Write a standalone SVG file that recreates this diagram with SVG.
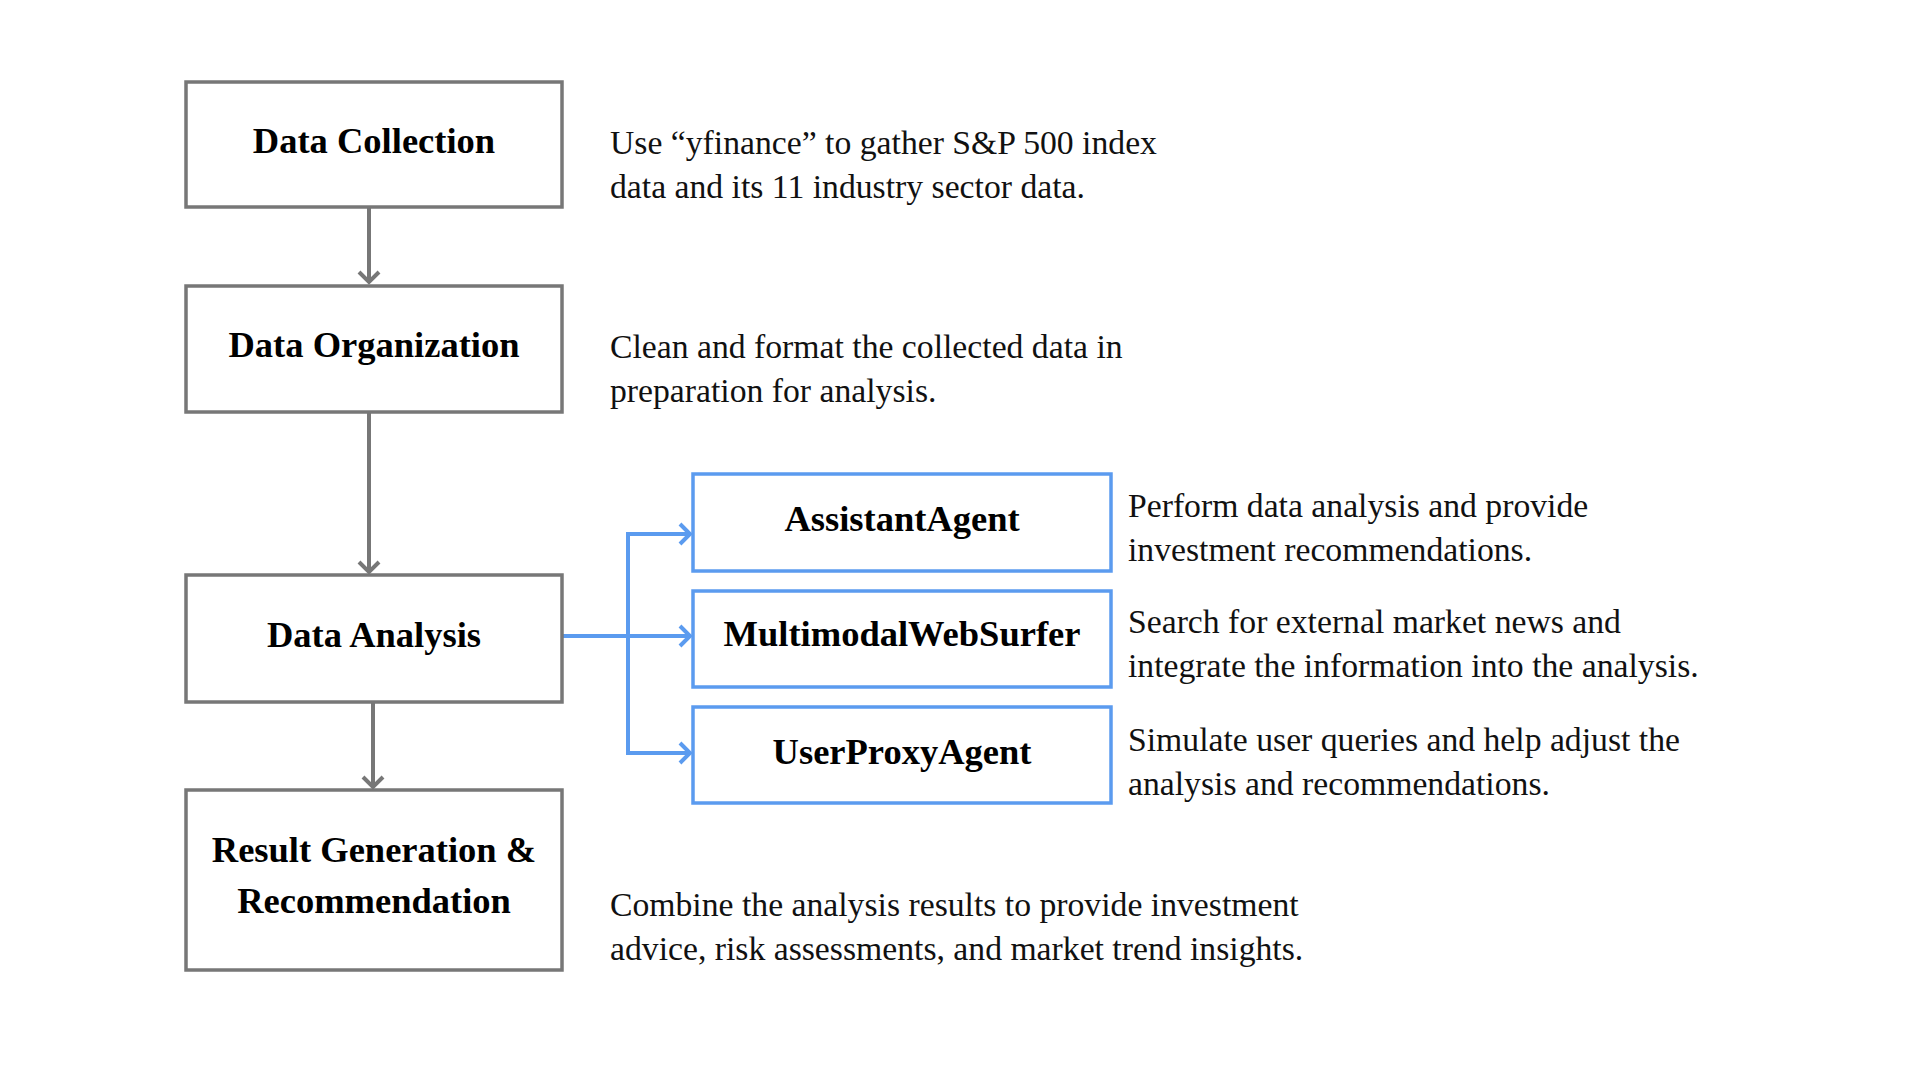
<svg xmlns="http://www.w3.org/2000/svg" width="1920" height="1080" viewBox="0 0 1920 1080">
  <defs>
    <style>
      .gbox { fill: #ffffff; stroke: #777777; stroke-width: 3.5; }
      .bbox { fill: #ffffff; stroke: #5b9bef; stroke-width: 3.5; }
      .title { font-family: "Liberation Serif", "Times New Roman", serif; font-weight: bold; font-size: 36.5px; fill: #000000; text-anchor: middle; }
      .desc { font-family: "Liberation Serif", "Times New Roman", serif; font-size: 33.7px; fill: #111111; }
      .gline { fill: none; stroke: #777777; stroke-width: 4; }
      .bline { fill: none; stroke: #5b9bef; stroke-width: 4; }
    </style>
    <marker id="gArrow" markerUnits="userSpaceOnUse" markerWidth="30" markerHeight="30" viewBox="-15 -15 30 30" refX="0" refY="0" orient="auto">
      <path d="M-10,-10 L0,0 L-10,10" fill="none" stroke="#777777" stroke-width="4"/>
    </marker>
    <marker id="bArrow" markerUnits="userSpaceOnUse" markerWidth="30" markerHeight="30" viewBox="-15 -15 30 30" refX="0" refY="0" orient="auto">
      <path d="M-10,-10 L0,0 L-10,10" fill="none" stroke="#5b9bef" stroke-width="4"/>
    </marker>
  </defs>
  <rect width="1920" height="1080" fill="#ffffff"/>

  <g id="connectors">
    <line class="gline" x1="369" y1="208" x2="369" y2="282" marker-end="url(#gArrow)"/>
    <line class="gline" x1="369" y1="413" x2="369" y2="572" marker-end="url(#gArrow)"/>
    <line class="gline" x1="373" y1="703" x2="373" y2="787" marker-end="url(#gArrow)"/>
    <line class="bline" x1="562" y1="636" x2="690" y2="636" marker-end="url(#bArrow)"/>
    <line class="bline" x1="628" y1="534" x2="628" y2="753"/>
    <polyline class="bline" points="626,534 690,534" marker-end="url(#bArrow)"/>
    <polyline class="bline" points="626,753 690,753" marker-end="url(#bArrow)"/>
  </g>

  <g id="node-data-collection">
    <rect class="gbox" x="186" y="82" width="376" height="125"/>
    <text class="title" x="374" y="153">Data Collection</text>
  </g>
  <text class="desc" x="610" y="154">Use “yfinance” to gather S&amp;P 500 index</text>
  <text class="desc" x="610" y="198">data and its 11 industry sector data.</text>

  <g id="node-data-organization">
    <rect class="gbox" x="186" y="286" width="376" height="126"/>
    <text class="title" x="374" y="357">Data Organization</text>
  </g>
  <text class="desc" x="610" y="358">Clean and format the collected data in</text>
  <text class="desc" x="610" y="402">preparation for analysis.</text>

  <g id="node-data-analysis">
    <rect class="gbox" x="186" y="575" width="376" height="127"/>
    <text class="title" x="374" y="647">Data Analysis</text>
  </g>

  <g id="node-result">
    <rect class="gbox" x="186" y="790" width="376" height="180"/>
    <text class="title" x="374" y="862">Result Generation &amp;</text>
    <text class="title" x="374" y="913">Recommendation</text>
  </g>
  <text class="desc" x="610" y="916">Combine the analysis results to provide investment</text>
  <text class="desc" x="610" y="960">advice, risk assessments, and market trend insights.</text>

  <g id="node-assistant-agent">
    <rect class="bbox" x="693" y="474" width="418" height="97"/>
    <text class="title" x="902" y="531">AssistantAgent</text>
  </g>
  <text class="desc" x="1128" y="517">Perform data analysis and provide</text>
  <text class="desc" x="1128" y="561">investment recommendations.</text>

  <g id="node-multimodal-web-surfer">
    <rect class="bbox" x="693" y="591" width="418" height="96"/>
    <text class="title" x="902" y="646">MultimodalWebSurfer</text>
  </g>
  <text class="desc" x="1128" y="633">Search for external market news and</text>
  <text class="desc" x="1128" y="677">integrate the information into the analysis.</text>

  <g id="node-user-proxy-agent">
    <rect class="bbox" x="693" y="707" width="418" height="96"/>
    <text class="title" x="902" y="764">UserProxyAgent</text>
  </g>
  <text class="desc" x="1128" y="751">Simulate user queries and help adjust the</text>
  <text class="desc" x="1128" y="795">analysis and recommendations.</text>
</svg>
